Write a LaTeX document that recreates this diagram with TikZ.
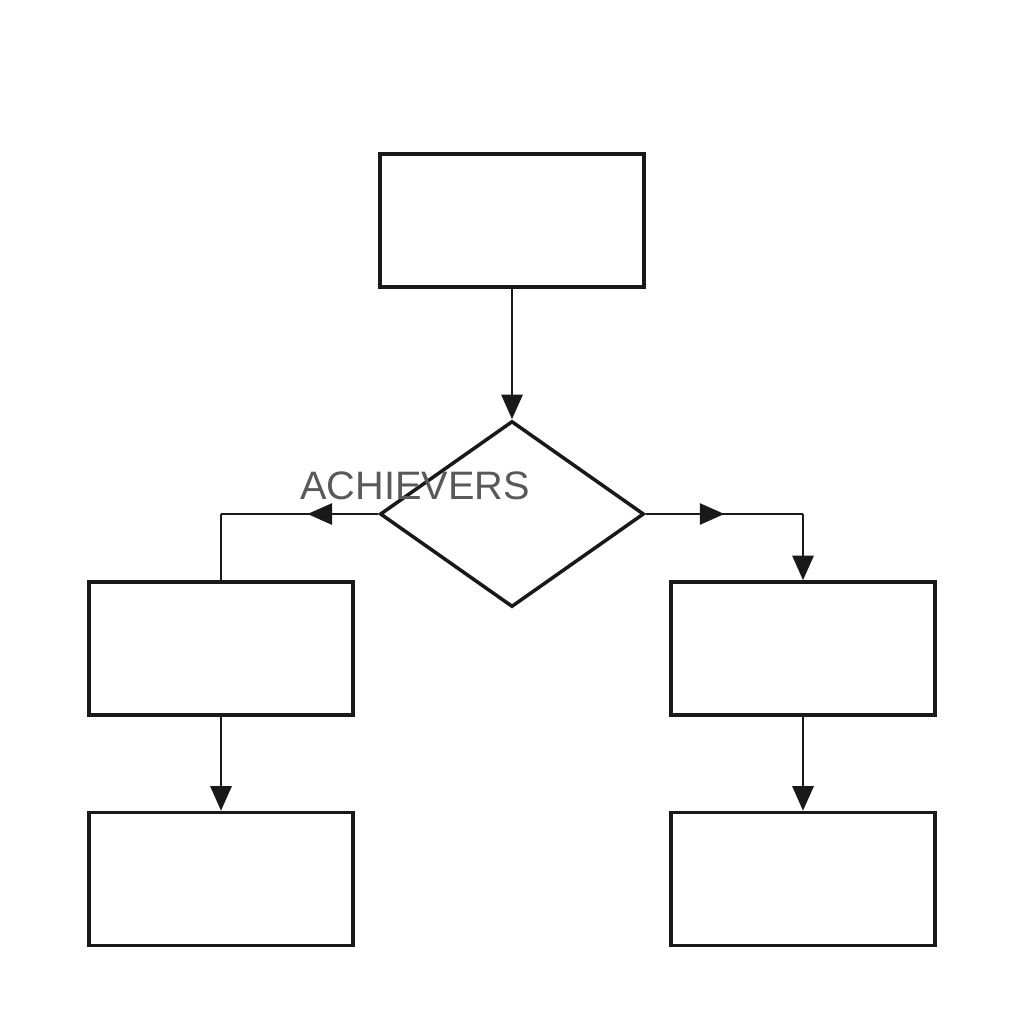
\documentclass[tikz,border=0pt]{standalone}
\usepackage{fontspec}
\setmainfont{Liberation Sans}
\usetikzlibrary{arrows.meta,decorations.markings,shapes.geometric}
\begin{document}
\begin{tikzpicture}[x=0.02cm,y=-0.02cm,
  box/.style={draw=black!90,line width=2pt,minimum width=264*0.02cm,minimum height=133*0.02cm,inner sep=0},
  conn/.style={draw=black!90,line width=1.5pt},
  tip/.style={-{Triangle[length=14pt,width=12pt]}},
  midtip/.style={decoration={markings,mark=at position #1 with {\arrow{Triangle[length=14pt,width=12pt]}}},postaction={decorate}}]
\useasboundingbox (0,0) rectangle (1024,1024);
\node[box] (top) at (512,220.5) {};
\node[draw=black!90,line width=2pt,diamond,minimum width=264*0.02cm,minimum height=186*0.02cm,inner sep=0,aspect=1.42] (dec) at (512,514) {};
\node[box] (l1) at (221,648.5) {};
\node[box] (l2) at (221,879) {};
\node[box] (r1) at (803,648.5) {};
\node[box] (r2) at (803,879) {};
\coordinate (lc) at (221,514);
\coordinate (rc) at (803,514);
\draw[conn,tip] (top.south) -- (dec.north);
\draw[conn,midtip=0.45] (dec.west) -- (lc);
\draw[conn] (lc) -- (l1.north);
\draw[conn,midtip=0.5] (dec.east) -- (rc);
\draw[conn,tip] (rc) -- (r1.north);
\draw[conn,tip] (l1.south) -- (l2.north);
\draw[conn,tip] (r1.south) -- (r2.north);
\node[text=black!65,font=\fontsize{22.6}{24}\selectfont,inner sep=0] (t) at (415,486) {ACHIEVERS};
\end{tikzpicture}
\end{document}
